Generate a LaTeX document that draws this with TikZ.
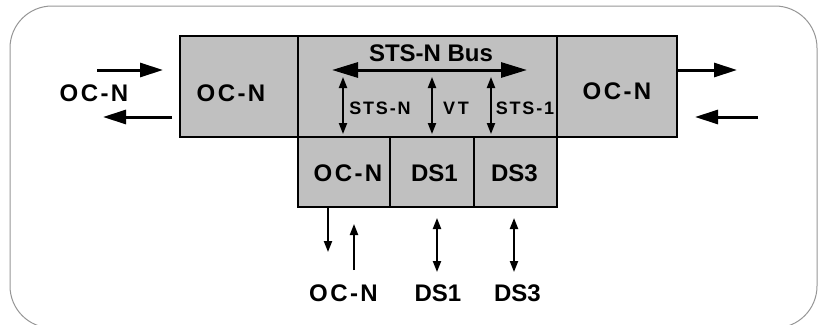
\documentclass[tikz,border=0pt]{standalone}
\usepackage{fontspec}
\setmainfont{Liberation Sans}
\newfontfamily\spaced[LetterSpace=10]{Liberation Sans Bold}
\newfontfamily\wide[LetterSpace=14]{Liberation Sans Bold}
\usetikzlibrary{arrows.meta}
\definecolor{boxgray}{RGB}{192,192,192}
\definecolor{framegray}{RGB}{150,150,150}

\begin{document}
\begin{tikzpicture}[x=1pt,y=-1pt,
  blk/.style={draw,line width=2.5pt,fill=boxgray,inner sep=0pt},
  big/.style={inner sep=0pt,font=\fontsize{24}{24}\selectfont\bfseries},
  small/.style={inner sep=0pt,font=\fontsize{18}{18}\selectfont\bfseries},
  fat/.style={line width=3pt,-{Triangle[length=23pt,width=14pt]}},
  busline/.style={line width=3pt,{Triangle[length=26pt,width=15pt]}-{Triangle[length=26pt,width=15pt]}},
  thin/.style={line width=2pt,{Triangle[length=11pt,width=8pt]}-{Triangle[length=11pt,width=8pt]}},
  thinone/.style={line width=2pt,-{Triangle[length=11pt,width=8pt]}}]
\useasboundingbox (0,0) rectangle (822,324);
\clip (0,0) rectangle (822,324);
\draw[framegray,line width=1pt,rounded corners=42pt] (10,6) rectangle (817,328); % frame
% boxes
\node[blk,minimum width=118pt,minimum height=101pt] (ocl) at (239,86.5) {};
\node[blk,minimum width=259pt,minimum height=101pt] (bus) at (427.5,86.5) {};
\node[blk,minimum width=120pt,minimum height=101pt] (ocr) at (617,86.5) {};
\node[blk,minimum width=92pt,minimum height=70pt] (ocb) at (344,172) {};
\node[blk,minimum width=84pt,minimum height=70pt] (dsa) at (432,172) {};
\node[blk,minimum width=83pt,minimum height=70pt] (dsb) at (515.5,172) {};
% texts
\node[big] (tocl) at (231,93.5) {\spaced OC-N};
\node[big] (tocr) at (617,91) {\spaced OC-N};
\node[big] (tbus) at (431,53.5) {STS-N Bus};
\node[small] (tstsn) at (380,108.5) {\spaced STS-N};
\node[small] (tvt) at (456,108.5) {\wide VT};
\node[small] (tsts1) at (525,108.5) {\spaced STS-1};
\node[big] (tocb) at (348,173.5) {\spaced OC-N};
\node[big] (tdsa) at (434.5,173.5) {DS1};
\node[big] (tdsb) at (514.5,173.5) {DS3};
\node[big] (lleft) at (94,93.5) {\spaced OC-N};
\node[big] (locb) at (343.5,293.5) {\spaced OC-N};
\node[big] (ldsa) at (438,293.5) {DS1};
\node[big] (ldsb) at (517.5,293.5) {DS3};
% side arrows
\coordinate (lin0) at (97,70); \coordinate (lin1) at (163,70);
\coordinate (lout0) at (172,117); \coordinate (lout1) at (103,117);
\coordinate (rout1) at (737,70);
\coordinate (rin0) at (758,117); \coordinate (rin1) at (695,117);
\draw[fat] (lin0) -- (lin1);
\draw[fat] (lout0) -- (lout1);
\draw[fat] (ocr.east |- rout1) -- (rout1);
\draw[fat] (rin0) -- (rin1);
% bus
\coordinate (bus0) at (332,70); \coordinate (bus1) at (527,70);
\draw[busline] (bus0) -- (bus1);
\foreach \x [count=\i] in {343,432,491}{
  \coordinate (va\i) at (\x,77); \coordinate (vb\i) at (\x,134);
  \draw[thin] (va\i) -- (vb\i);
}
% bottom arrows
\coordinate (dn) at (328,252);
\coordinate (up0) at (354,270); \coordinate (up1) at (354,224);
\draw[thinone] (ocb.south -| dn) -- (dn);
\draw[thinone] (up0) -- (up1);
\foreach \x [count=\i] in {437,514}{
  \coordinate (ba\i) at (\x,218); \coordinate (bb\i) at (\x,272);
  \draw[thin] (ba\i) -- (bb\i);
}
\end{tikzpicture}
\end{document}
